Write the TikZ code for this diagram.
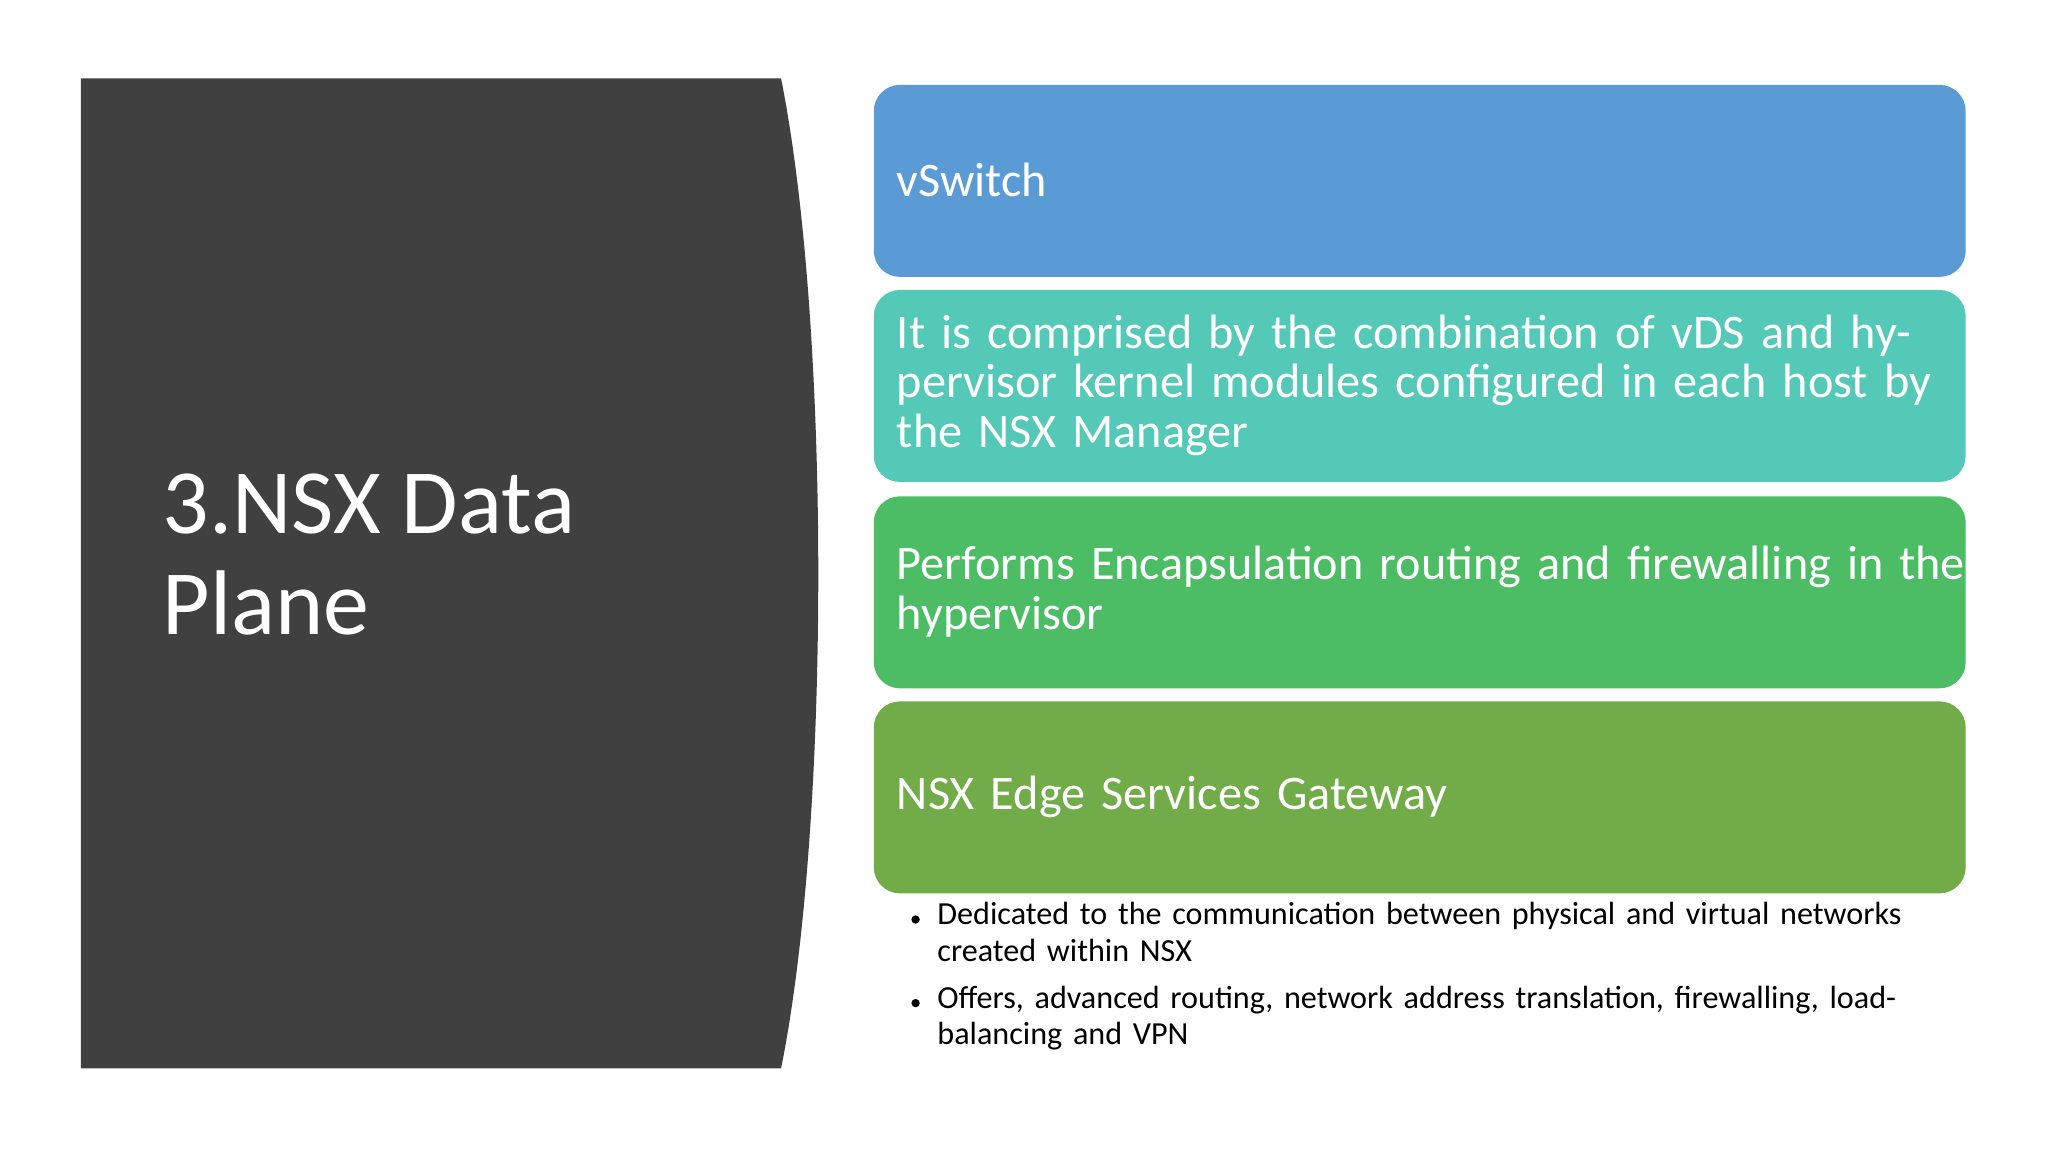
\documentclass[tikz,border=0pt]{standalone}
\usepackage{fontspec}
\setmainfont{Carlito}
\begin{document}
\begin{tikzpicture}[x=0.01cm,y=-0.01cm,
  bx/.style={rounded corners=0.2cm,draw=none},
  bt/.style={anchor=west,text=white,font=\fontsize{10.5}{10.8}\selectfont,align=left,text width=8.2cm,inner sep=0pt},
  bl/.style={anchor=north west,font=\fontsize{7}{8}\selectfont,align=left,text width=7.7cm,inner sep=0pt}]
\definecolor{dk}{HTML}{404040}
\definecolor{c1}{HTML}{5B9BD5}
\definecolor{c2}{HTML}{55C9B7}
\definecolor{c3}{HTML}{4CBD65}
\definecolor{c4}{HTML}{71AC48}
\useasboundingbox[fill=white] (0,0) rectangle (1568,882);
\fill[dk] (62,60) -- (598,60) .. controls (636,250) and (636,630) .. (598,818) -- (62,818) -- cycle;
\node[anchor=north west,text=white,font=\fontsize{20}{22}\selectfont,align=left,inner sep=0pt] (title) at (124,362) {3.NSX Data\\Plane};
\fill[bx,c1] (669,65) rectangle (1505,212);
\fill[bx,c2] (669,222) rectangle (1505,369);
\fill[bx,c3] (669,380) rectangle (1505,527);
\fill[bx,c4] (669,537) rectangle (1505,684);
\node[bt] (t1) at (686,138) {vSwitch};
\node[bt] (t2) at (686,295) {It is comprised by the combination of vDS and hypervisor kernel modules configured in each host by the NSX Manager};
\node[bt] (t3) at (686,453) {Performs Encapsulation routing and firewalling in the hypervisor};
\node[bt] (t4) at (686,610) {NSX Edge Services Gateway};
\node[bl] (b1) at (717,690) {Dedicated to the communication between physical and virtual networks created within NSX};
\node[bl] (b2) at (717,754) {Offers, advanced routing, network address translation, firewalling, load-balancing and VPN};
\fill (701,704) circle (3.2);
\fill (701,768) circle (3.2);
\end{tikzpicture}
\end{document}
